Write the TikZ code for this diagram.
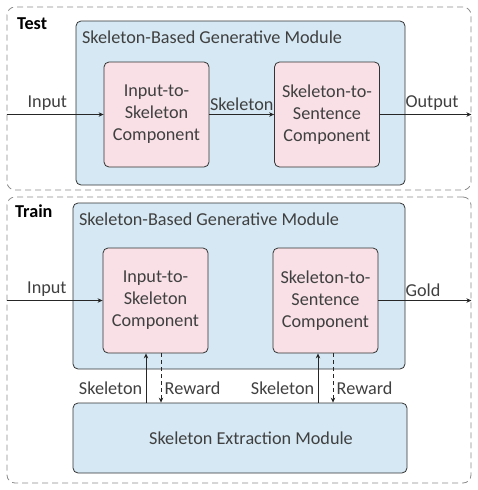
\documentclass[tikz,border=0pt]{standalone}
\usepackage{fontspec}
\setmainfont{Carlito}
\usetikzlibrary{arrows.meta, positioning, calc}
\definecolor{modblue}{RGB}{213,232,243}
\definecolor{comppink}{RGB}{248,224,230}
\definecolor{textgray}{RGB}{64,64,64}
\definecolor{dashgray}{RGB}{140,140,140}

\begin{document}
\begin{tikzpicture}[
    x=1pt, y=-1pt,
    every node/.style={font=\fontsize{18.2}{22}\selectfont, text=textgray},
    stage/.style={
        rectangle, rounded corners=8pt, inner sep=0pt,
        draw=dashgray, dash pattern=on 6pt off 4pt, thick
    },
    module/.style={
        rectangle, rounded corners=5pt, inner sep=0pt,
        draw=black!80, fill=modblue, thick
    },
    component/.style={
        rectangle, rounded corners=5pt, inner sep=0pt,
        minimum width=105pt, minimum height=105pt,
        align=center,
        draw=black!80, fill=comppink, thick
    },
    stagelabel/.style={font=\fontsize{18.2}{22}\selectfont\bfseries, text=black, anchor=west},
    arrow/.style={-{Stealth[length=5pt,width=4.5pt]}, thick, color=black!85},
    feedback/.style={arrow, dash pattern=on 4pt off 3pt}
]
\useasboundingbox (0,0) rectangle (478,490);

% --- test stage ---
\node[stage, minimum width=464pt, minimum height=183pt] (test) at (239,98.5) {};
\node[stagelabel] (testlabel) at ([xshift=7pt,yshift=-17pt]test.north west) {Test};

\node[module, minimum width=329pt, minimum height=164pt] (gentest) at (240.5,103) {};
\node[anchor=west] (gentesttitle) at ([xshift=3pt,yshift=-17pt]gentest.north west) {Skeleton-Based Generative Module};

\node[component] (itstest) at (156.5,114.5) {Input-to-\\Skeleton\\Component};
\node[component] (ststest) at (327,114.5) {Skeleton-to-\\Sentence\\Component};

\coordinate (intest) at (test.west |- itstest);
\coordinate (outtest) at (test.east |- ststest);

\draw[arrow] (intest) -- node[above, pos=0.42] {Input} (itstest);
\draw[arrow] (itstest) -- node[above, pos=0.5] {Skeleton} (ststest);
\draw[arrow] (ststest) -- node[above, pos=0.57] {Output} (outtest);

% --- train stage ---
\node[stage, minimum width=464pt, minimum height=286pt] (train) at (239,340) {};
\node[stagelabel] (trainlabel) at ([xshift=5pt,yshift=-15pt]train.north west) {Train};

\node[module, minimum width=332pt, minimum height=166pt] (gentrain) at (239,286) {};
\node[anchor=west] (gentraintitle) at ([xshift=3pt,yshift=-17pt]gentrain.north west) {Skeleton-Based Generative Module};

\node[component] (itstrain) at (155.5,300.5) {Input-to-\\Skeleton\\Component};
\node[component] (ststrain) at (325.5,300.5) {Skeleton-to-\\Sentence\\Component};

\node[module, minimum width=334pt, minimum height=70pt] (extract) at (240,438) {};
\node (extracttitle) at ([xshift=11pt]extract.center) {Skeleton Extraction Module};

\coordinate (intrain) at (train.west |- itstrain);
\coordinate (goldtrain) at (train.east |- ststrain);

\draw[arrow] (intrain) -- node[above, pos=0.42] {Input} (itstrain);
\draw[arrow] (ststrain) -- node[above, pos=0.48] {Gold} (goldtrain);

% --- skeleton up, reward down ---
\draw[arrow] ([xshift=-9.5pt]itstrain.south |- extract.north) -- node[left, pos=0.3] {Skeleton} ([xshift=-9.5pt]itstrain.south);
\draw[feedback] ([xshift=5.5pt]itstrain.south) -- node[right, pos=0.7] {Reward} ([xshift=5.5pt]itstrain.south |- extract.north);
\draw[arrow] ([xshift=-7.5pt]ststrain.south |- extract.north) -- node[left, pos=0.3] {Skeleton} ([xshift=-7.5pt]ststrain.south);
\draw[feedback] ([xshift=7.5pt]ststrain.south) -- node[right, pos=0.7] {Reward} ([xshift=7.5pt]ststrain.south |- extract.north);

\end{tikzpicture}
\end{document}
